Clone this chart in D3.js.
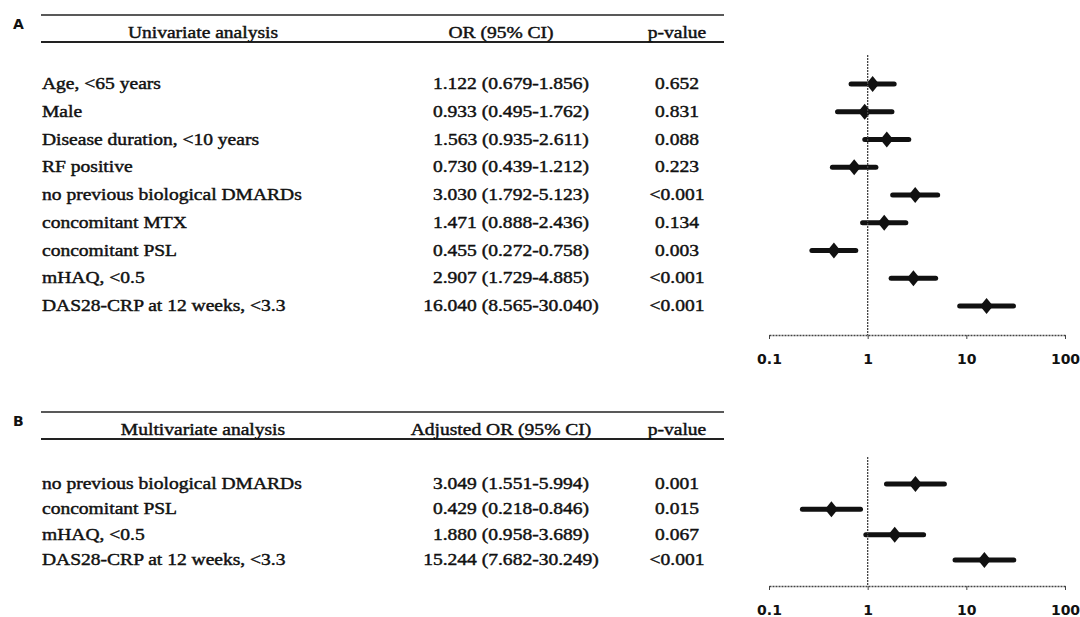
<!DOCTYPE html>
<html>
<head>
<meta charset="utf-8">
<script src="https://cdn.jsdelivr.net/npm/d3@7"></script>
<style>
  html, body { margin: 0; padding: 0; background: #fff; }
  svg { display: block; }
  .cell { font-family: "Liberation Serif", "Times New Roman", serif; font-size: 17px; fill: #111; stroke: #111; stroke-width: 0.45px; }
  .tick text { font-family: "DejaVu Sans", Verdana, sans-serif; font-weight: bold; font-size: 14px; fill: #111; }
  .panel { font-family: "DejaVu Sans", Arial, sans-serif; font-weight: 900; font-size: 14px; fill: #111; }
</style>
</head>
<body>
<script>
const width = 1080;
const height = 617;

// panel A: univariate
const uniLabels = [
  "Age, <65 years",
  "Male",
  "Disease duration, <10 years",
  "RF positive",
  "no previous biological DMARDs",
  "concomitant MTX",
  "concomitant PSL",
  "mHAQ, <0.5",
  "DAS28-CRP at 12 weeks, <3.3"
];
const uniOR = [1.122, 0.933, 1.563, 0.730, 3.030, 1.471, 0.455, 2.907, 16.040];
const uniLo = [0.679, 0.495, 0.935, 0.439, 1.792, 0.888, 0.272, 1.729, 8.565];
const uniHi = [1.856, 1.762, 2.611, 1.212, 5.123, 2.436, 0.758, 4.885, 30.040];
const uniP = ["0.652", "0.831", "0.088", "0.223", "<0.001", "0.134", "0.003", "<0.001", "<0.001"];

// panel B: multivariate
const multiLabels = [
  "no previous biological DMARDs",
  "concomitant PSL",
  "mHAQ, <0.5",
  "DAS28-CRP at 12 weeks, <3.3"
];
const multiOR = [3.049, 0.429, 1.880, 15.244];
const multiLo = [1.551, 0.218, 0.958, 7.682];
const multiHi = [5.994, 0.846, 3.689, 30.249];
const multiP = ["0.001", "0.015", "0.067", "<0.001"];

const tickValues = [0.1, 1, 10, 100];

const stretch = 1.15; // the scanned table text is wide

const svg = d3.select("body")
  .append("svg")
  .attr("width", width)
  .attr("height", height);

svg.append("rect").attr("width", width).attr("height", height).attr("fill", "#fff");

const xScale = d3.scaleLog().domain([0.1, 100]).range([769, 1065]);

function cellText(sel, x, y, anchor, txt) {
  sel.append("text")
    .attr("class", "cell")
    .attr("transform", (d) => `translate(${typeof x === "function" ? x(d) : x},${y}) scale(${stretch},1)`)
    .attr("text-anchor", anchor)
    .text(txt);
}

function panel(opt) {
  const rows = opt.labels.map((label, i) => ({
    label,
    or: opt.or[i],
    lo: opt.lo[i],
    hi: opt.hi[i],
    p: opt.p[i]
  }));

  const yScale = d3.scalePoint()
    .domain(opt.labels)
    .range(opt.rowRange);

  const g = svg.append("g");

  g.append("text")
    .attr("class", "panel")
    .attr("x", 13)
    .attr("y", opt.top + 14)
    .text(opt.letter);

  // table rules
  g.append("line")
    .attr("x1", 41).attr("x2", 724)
    .attr("y1", opt.top).attr("y2", opt.top)
    .attr("stroke", "#222").attr("stroke-width", 1.6);
  g.append("line")
    .attr("x1", 41).attr("x2", 724)
    .attr("y1", opt.top + 27).attr("y2", opt.top + 27)
    .attr("stroke", "#222").attr("stroke-width", 2);

  const headers = [
    [opt.head1, 203],
    [opt.head2, 501],
    ["p-value", 677]
  ];
  const hd = g.selectAll(".head")
    .data(headers)
    .enter()
    .append("g");
  cellText(hd, (d) => d[1], opt.top + 23, "middle", (d) => d[0]);

  const row = g.selectAll(".row")
    .data(rows)
    .enter()
    .append("g")
    .attr("transform", (d) => `translate(0,${yScale(d.label)})`);

  cellText(row, 42, 5, "start", (d) => d.label);
  cellText(row, 511, 5, "middle", (d) => `${d.or.toFixed(3)} (${d.lo.toFixed(3)}-${d.hi.toFixed(3)})`);
  cellText(row, 677, 5, "middle", (d) => d.p);

  // reference line at OR = 1
  g.append("line")
    .attr("x1", xScale(1)).attr("x2", xScale(1))
    .attr("y1", opt.refTop).attr("y2", opt.axisY)
    .attr("stroke", "#444")
    .attr("stroke-width", 1.3)
    .attr("stroke-dasharray", "2,1");

  // axis
  const axis = g.append("g")
    .attr("transform", `translate(0,${opt.axisY})`)
    .call(
      d3.axisBottom(xScale)
        .tickValues(tickValues)
        .tickFormat((d) => d)
        .tickSizeInner(4)
        .tickSizeOuter(0)
        .tickPadding(15)
    );
  axis.select(".domain")
    .attr("stroke", "#444")
    .attr("stroke-width", 1.3)
    .attr("stroke-dasharray", "2,1");
  axis.selectAll(".tick line").attr("stroke", "#444");

  // CI bars and diamonds
  row.append("line")
    .attr("x1", (d) => xScale(d.lo))
    .attr("x2", (d) => xScale(d.hi))
    .attr("stroke", "#111")
    .attr("stroke-width", 5)
    .attr("stroke-linecap", "round");

  row.append("path")
    .attr("transform", (d) => `translate(${xScale(d.or)},0)`)
    .attr("d", "M0,-8L6.5,0L0,8L-6.5,0Z")
    .attr("fill", "#111");
}

panel({
  letter: "A",
  top: 15,
  head1: "Univariate analysis",
  head2: "OR (95% CI)",
  labels: uniLabels,
  or: uniOR,
  lo: uniLo,
  hi: uniHi,
  p: uniP,
  rowRange: [84, 306],
  refTop: 55,
  axisY: 335
});

panel({
  letter: "B",
  top: 412,
  head1: "Multivariate analysis",
  head2: "Adjusted OR (95% CI)",
  labels: multiLabels,
  or: multiOR,
  lo: multiLo,
  hi: multiHi,
  p: multiP,
  rowRange: [484, 560],
  refTop: 457,
  axisY: 586
});
</script>
</body>
</html>
